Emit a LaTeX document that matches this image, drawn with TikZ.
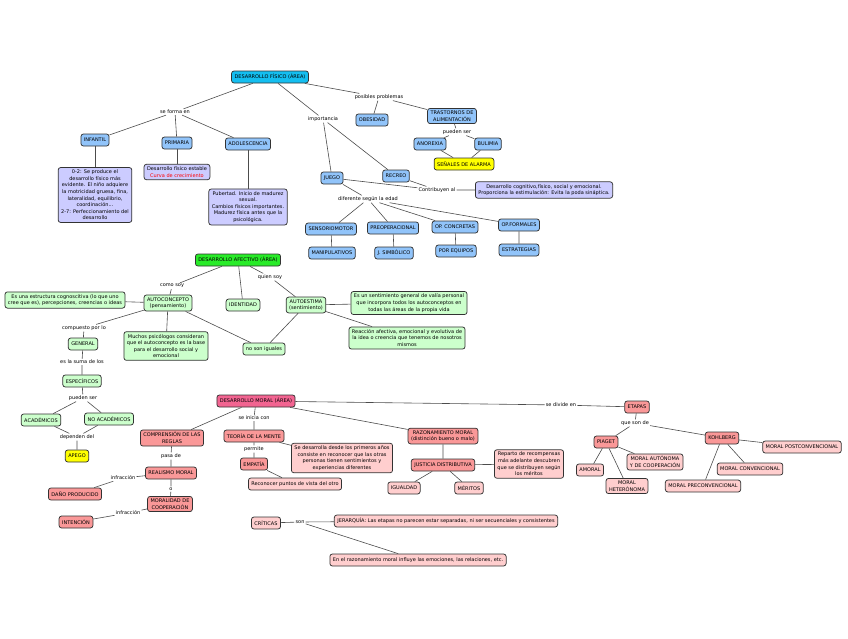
\documentclass[tikz,border=0pt]{standalone}
\usepackage{fontspec}
\setmainfont{DejaVu Sans}
\usetikzlibrary{positioning}
\definecolor{fisblue}{RGB}{20,190,240}
\definecolor{lightblue}{RGB}{145,196,250}
\definecolor{lavender}{RGB}{204,204,255}
\definecolor{afgreen}{RGB}{40,235,40}
\definecolor{lightgreen}{RGB}{204,255,204}
\definecolor{moralpink}{RGB}{242,100,145}
\definecolor{salmon}{RGB}{250,152,152}
\definecolor{lightpink}{RGB}{255,206,206}
\definecolor{alarmyellow}{RGB}{255,255,0}

\begin{document}
\begin{tikzpicture}[
  x=1pt, y=-1pt,
  box/.style={rectangle, draw=black!80, line width=0.75pt, rounded corners=2.5pt,
              align=center, font=\fontsize{5}{6.6}\selectfont,
              inner xsep=3pt, inner ysep=2.4pt, minimum height=12pt},
  fisbox/.style={box, fill=fisblue},
  bluebox/.style={box, fill=lightblue},
  lavbox/.style={box, fill=lavender},
  afbox/.style={box, fill=afgreen},
  greenbox/.style={box, fill=lightgreen},
  moralbox/.style={box, fill=moralpink},
  salmonbox/.style={box, fill=salmon},
  pinkbox/.style={box, fill=lightpink},
  yellowbox/.style={box, fill=alarmyellow},
  link/.style={font=\fontsize{5}{6}\selectfont, inner sep=1pt},
  conn/.style={draw=black!70, line width=0.6pt}
]
\useasboundingbox (0,0) rectangle (848,638);

% desarrollo fisico
\node[fisbox] (fis) at (270,77) {DESARROLLO FÍSICO (ÁREA)};
\node[link] (seforma) at (175,112) {se forma en};
\node[bluebox] (infantil) at (95,140) {INFANTIL};
\node[bluebox] (primaria) at (177,143) {PRIMARIA};
\node[bluebox] (adolesc) at (248,144) {ADOLESCENCIA};
\node[lavbox] (infdesc) at (95,195) {0-2: Se produce el\\desarrollo físico más\\evidente. El niño adquiere\\la motricidad gruesa, fina,\\lateralidad, equilibrio,\\coordinación...\\2-7: Perfeccionamiento del\\desarrollo};
\node[lavbox] (primdesc) at (177,172) {Desarrollo físico estable\\\textcolor{red}{Curva de crecimiento}};
\node[lavbox] (adoldesc) at (248,207) {Pubertad. Inicio de madurez\\sexual.\\Cambios físicos importantes.\\Madurez física antes que la\\psicológica.};
\node[link] (importancia) at (323,119) {importancia};
\node[link] (problemas) at (379,97) {posibles problemas};
\node[bluebox] (obesidad) at (372,120) {OBESIDAD};
\node[bluebox] (trastornos) at (452,116) {TRASTORNOS DE\\ALIMENTACIÓN};
\node[link] (puedenser) at (457,132) {pueden ser};
\node[bluebox] (anorexia) at (430,144) {ANOREXIA};
\node[bluebox] (bulimia) at (488,144) {BULIMIA};
\node[yellowbox] (alarma) at (464,164) {SEÑALES DE ALARMA};
\node[bluebox] (juego) at (332,178) {JUEGO};
\node[bluebox] (recreo) at (396,176) {RECREO};
\node[link] (contribuyen) at (437,190) {Contribuyen al};
\node[lavbox] (contdesc) at (544,190) {Desarrollo cognitivo,físico, social y emocional.\\Proporciona la estimulación: Evita la poda sináptica.};
\node[link] (segunedad) at (368,199) {diferente según la edad};
\node[bluebox] (sensorio) at (331,229) {SENSORIOMOTOR};
\node[bluebox] (preop) at (393,228) {PREOPERACIONAL};
\node[bluebox] (opconc) at (455,227) {OP. CONCRETAS};
\node[bluebox] (opform) at (519,225) {OP.FORMALES};
\node[bluebox] (manip) at (332,253) {MANIPULATIVOS};
\node[bluebox] (simbolico) at (394,253) {J. SIMBÓLICO};
\node[bluebox] (equipos) at (456,251) {POR EQUIPOS};
\node[bluebox] (estrategias) at (519,250) {ESTRATEGIAS};

\draw[conn] (fis) -- (seforma) (seforma) -- (infantil) (seforma) -- (primaria) (seforma) -- (adolesc);
\draw[conn] (infantil) -- (infdesc) (primaria) -- (primdesc) (adolesc) -- (adoldesc);
\draw[conn] (fis) -- (importancia) (importancia) -- (juego) (importancia) -- (recreo);
\draw[conn] (fis) -- (problemas) (problemas) -- (obesidad) (problemas) -- (trastornos);
\draw[conn] (trastornos) -- (puedenser) (puedenser) -- (anorexia) (puedenser) -- (bulimia);
\draw[conn] (anorexia) -- (alarma) (bulimia) -- (alarma);
\draw[conn] (juego) -- (contribuyen) (recreo) -- (contribuyen) (contribuyen) -- (contdesc);
\draw[conn] (juego) -- (segunedad) (segunedad) -- (sensorio) (segunedad) -- (preop)
  (segunedad) -- (opconc) (segunedad) -- (opform);
\draw[conn] (sensorio) -- (manip) (preop) -- (simbolico) (opconc) -- (equipos) (opform) -- (estrategias);

% desarrollo afectivo
\node[afbox] (afec) at (238,260) {DESARROLLO AFECTIVO (ÁREA)};
\node[link] (comosoy) at (172,286) {como soy};
\node[link] (quiensoy) at (270,277) {quien soy};
\node[greenbox] (autoconcepto) at (168,303) {AUTOCONCEPTO\\(pensamiento)};
\node[greenbox] (identidad) at (243,305) {IDENTIDAD};
\node[greenbox] (autoestima) at (306,305) {AUTOESTIMA\\(sentimiento)};
\node[greenbox] (estructura) at (65,300) {Es una estructura cognoscitiva (lo que uno\\cree que es), percepciones, creencias o ideas};
\node[greenbox] (valia) at (409,303) {Es un sentimiento general de valía personal\\que incorpora todos los autoconceptos en\\todas las áreas de la propia vida};
\node[greenbox] (reaccion) at (407,338) {Reacción afectiva, emocional y evolutiva de\\la idea o creencia que tenemos de nosotros\\mismos};
\node[greenbox] (noiguales) at (264,349) {no son iguales};
\node[greenbox] (psicologos) at (166,346) {Muchos psicólogos consideran\\que el autoconcepto es la base\\para el desarrollo social y\\emocional};
\node[link] (compuesto) at (84,328) {compuesto por lo};
\node[greenbox] (general) at (83,344) {GENERAL};
\node[link] (suma) at (82,362) {es la suma de los};
\node[greenbox] (especificos) at (82,381) {ESPECÍFICOS};
\node[link] (puedenser2) at (83,398) {pueden ser};
\node[greenbox] (academicos) at (41,420) {ACADÉMICOS};
\node[greenbox] (noacademicos) at (109,419) {NO ACADÉMICOS};
\node[link] (dependen) at (77,437) {dependen del};
\node[yellowbox] (apego) at (77,456) {APEGO};

\draw[conn] (afec) -- (comosoy) (comosoy) -- (autoconcepto) (afec) -- (identidad)
  (afec) -- (quiensoy) (quiensoy) -- (autoestima);
\draw[conn] (autoconcepto) -- (estructura) (autoconcepto) -- (psicologos) (autoconcepto) -- (noiguales);
\draw[conn] (autoestima) -- (noiguales) (autoestima) -- (valia) (autoestima) -- (reaccion);
\draw[conn] (autoconcepto) -- (compuesto) (compuesto) -- (general) (general) -- (suma) (suma) -- (especificos);
\draw[conn] (especificos) -- (puedenser2) (puedenser2) -- (academicos) (puedenser2) -- (noacademicos);
\draw[conn] (academicos) -- (dependen) (noacademicos) -- (dependen) (dependen) -- (apego);

% desarrollo moral
\node[moralbox] (moral) at (256,401) {DESARROLLO MORAL (ÁREA)};
\node[link] (seinicia) at (254,418) {se inicia con};
\node[link] (sedivide) at (561,405) {se divide en};
\node[salmonbox] (reglas) at (172,438) {COMPRENSIÓN DE LAS\\REGLAS};
\node[salmonbox] (teoria) at (254,436) {TEORÍA DE LA MENTE};
\node[pinkbox] (primeros) at (342,458) {Se desarrolla desde los primeros años\\consiste en reconocer que las otras\\personas tienen sentimientos y\\experiencias diferentes};
\node[link] (permite) at (254,449) {permite};
\node[salmonbox] (empatia) at (254,464) {EMPATÍA};
\node[pinkbox] (puntos) at (295,484) {Reconocer puntos de vista del otro};
\node[salmonbox] (razonamiento) at (443,436) {RAZONAMIENTO MORAL\\(distinción bueno o malo)};
\node[salmonbox] (justicia) at (443,465) {JUSTICIA DISTRIBUTIVA};
\node[pinkbox] (reparto) at (529,464) {Reparto de recompensas\\más adelante descubren\\que se distribuyen según\\los méritos};
\node[pinkbox] (igualdad) at (404,488) {IGUALDAD};
\node[pinkbox] (meritos) at (469,488) {MÉRITOS};
\node[link] (pasade) at (171,456) {pasa de};
\node[salmonbox] (realismo) at (171,473) {REALISMO MORAL};
\node[link] (ocoop) at (171,489) {o};
\node[salmonbox] (cooperacion) at (170,504) {MORALIDAD DE\\COOPERACIÓN};
\node[link] (infraccion) at (123,478) {infracción};
\node[salmonbox] (dano) at (75,494) {DAÑO PRODUCIDO};
\node[link] (infraccionb) at (128,513) {infracción};
\node[salmonbox] (intencion) at (76,522) {INTENCIÓN};
\node[pinkbox] (criticas) at (266,523) {CRÍTICAS};
\node[link] (son) at (300,522) {son};
\node[pinkbox] (jerarquia) at (446,521) {JERARQUÍA: Las etapas no parecen estar separadas, ni ser secuenciales y consistentes};
\node[pinkbox] (emociones) at (418,560) {En el razonamiento moral influye las emociones, las relaciones, etc.};
\node[salmonbox] (etapas) at (637,407) {ETAPAS};
\node[link] (queson) at (635,423) {que son de};
\node[salmonbox] (piaget) at (606,442) {PIAGET};
\node[salmonbox] (kohlberg) at (722,438) {KOHLBERG};
\node[pinkbox] (amoral) at (590,470) {AMORAL};
\node[pinkbox] (heteronoma) at (627,486) {MORAL\\HETERÓNOMA};
\node[pinkbox] (autonoma) at (655,462) {MORAL AUTÓNOMA\\Y DE COOPERACIÓN};
\node[pinkbox] (postconv) at (802,447) {MORAL POSTCONVENCIONAL};
\node[pinkbox] (conv) at (750,469) {MORAL CONVENCIONAL};
\node[pinkbox] (preconv) at (703,486) {MORAL PRECONVENCIONAL};

\draw[conn] (moral) -- (reglas) (moral) -- (seinicia) (seinicia) -- (teoria) (moral) -- (razonamiento);
\draw[conn] (moral) -- (sedivide) (sedivide) -- (etapas);
\draw[conn] (teoria) -- (primeros) (teoria) -- (permite) (permite) -- (empatia) (empatia) -- (puntos);
\draw[conn] (razonamiento) -- (justicia) (justicia) -- (reparto) (justicia) -- (igualdad) (justicia) -- (meritos);
\draw[conn] (reglas) -- (pasade) (pasade) -- (realismo) (realismo) -- (ocoop) (ocoop) -- (cooperacion);
\draw[conn] (realismo) -- (infraccion) (infraccion) -- (dano) (cooperacion) -- (infraccionb) (infraccionb) -- (intencion);
\draw[conn] (criticas) -- (son) (son) -- (jerarquia) (son) -- (emociones);
\draw[conn] (etapas) -- (queson) (queson) -- (piaget) (queson) -- (kohlberg);
\draw[conn] (piaget) -- (amoral) (piaget) -- (heteronoma) (piaget) -- (autonoma);
\draw[conn] (kohlberg) -- (postconv) (kohlberg) -- (conv) (kohlberg) -- (preconv);

\end{tikzpicture}
\end{document}
